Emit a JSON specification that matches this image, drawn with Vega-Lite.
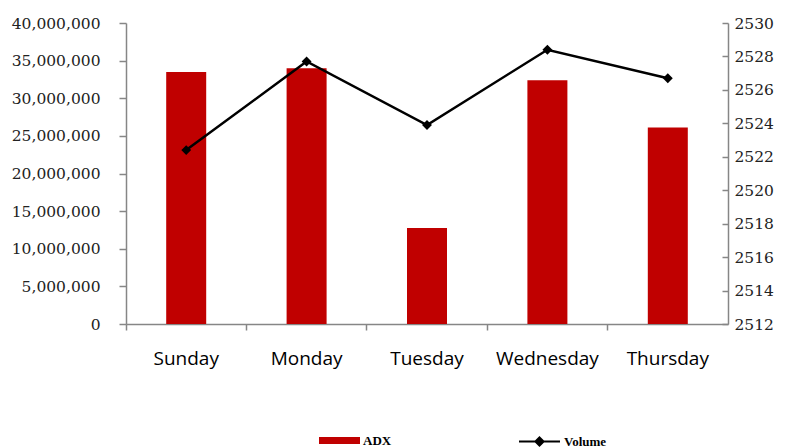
{
  "$schema": "https://vega.github.io/schema/vega-lite/v6.json",
  "autosize": {"type": "none"},
  "width": 602,
  "height": 301,
  "padding": {"left": 126, "top": 23, "right": 65, "bottom": 124},
  "background": "white",
  "data": {"values": [
    {"day": "Sunday", "ADX": 33500000, "Volume": 2522.4},
    {"day": "Monday", "ADX": 34000000, "Volume": 2527.7},
    {"day": "Tuesday", "ADX": 12750000, "Volume": 2523.9},
    {"day": "Wednesday", "ADX": 32400000, "Volume": 2528.4},
    {"day": "Thursday", "ADX": 26100000, "Volume": 2526.7}
  ]},
  "config": {
    "view": {"stroke": null},
    "axis": {"grid": false, "domainColor": "#868686", "tickColor": "#868686", "domainWidth": 1.5, "tickWidth": 1.5, "labelColor": "#222", "title": null, "labelOverlap": false},
    "legend": {"labelFont": "Liberation Serif", "labelFontWeight": "bold", "labelFontSize": 13, "labelColor": "#000"}
  },
  "encoding": {
    "x": {"field": "day", "type": "nominal", "sort": null,
      "scale": {"paddingInner": 0, "paddingOuter": 0},
      "axis": {"labelAngle": 0, "labelFont": "Open Sans", "labelFontSize": 19, "labelPadding": 19, "tickSize": 6, "bandPosition": 0, "labelColor": "#000"}}
  },
  "layer": [
    {
      "mark": {"type": "bar", "size": 40},
      "encoding": {
        "y": {"field": "ADX", "type": "quantitative", "scale": {"domain": [0, 40000000]},
          "axis": {"orient": "left", "values": [0,5000000,10000000,15000000,20000000,25000000,30000000,35000000,40000000], "format": ",d", "labelFont": "DejaVu Serif", "labelFontSize": 15.5, "labelPadding": 19, "tickSize": 7}},
        "color": {"datum": "ADX", "type": "nominal", "scale": {"range": ["#C00000"]},
          "legend": {"orient": "none", "legendX": 193, "legendY": 397, "symbolType": "M-1,-0.17H1V0.17H-1Z", "symbolSize": 1681, "symbolStrokeWidth": 0, "labelOffset": 3, "title": null}}
      }
    },
    {
      "mark": {"type": "line", "color": "black", "strokeWidth": 2.5, "point": {"shape": "diamond", "size": 50, "filled": true, "color": "black"}},
      "encoding": {
        "y": {"field": "Volume", "type": "quantitative", "scale": {"domain": [2512, 2530], "zero": false},
          "axis": {"orient": "right", "values": [2512,2514,2516,2518,2520,2522,2524,2526,2528,2530], "format": "d", "labelFont": "DejaVu Serif", "labelFontSize": 15.5, "labelPadding": 12, "tickSize": -6}},
        "stroke": {"datum": "Volume", "type": "nominal", "scale": {"range": ["black"]},
          "legend": {"orient": "none", "legendX": 392, "legendY": 397, "symbolType": "M-1,0H1M0,-0.2L0.2,0L0,0.2L-0.2,0Z", "symbolSize": 1681, "symbolStrokeWidth": 2, "symbolFillColor": "black", "labelOffset": 3, "title": null}}
      }
    }
  ],
  "resolve": {"scale": {"y": "independent", "color": "independent"}}
}
